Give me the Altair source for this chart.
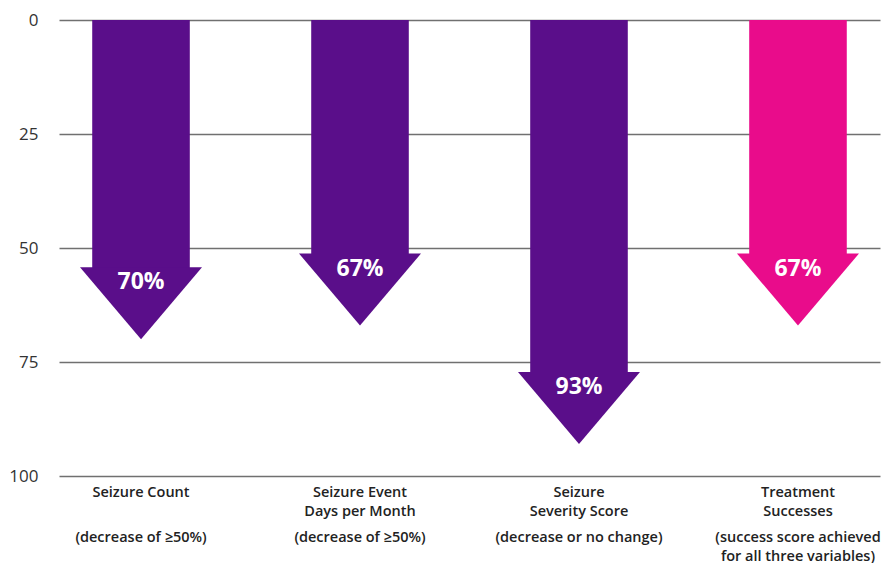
import altair as alt
import pandas as pd

keys = ["count", "days", "severity", "success"]
titles = ["Seizure Count", "Seizure Event\nDays per Month", "Seizure\nSeverity Score", "Treatment\nSuccesses"]
subtitles = ["(decrease of ≥50%)", "(decrease of ≥50%)", "(decrease or no change)",
             "(success score achieved\nfor all three variables)"]
values = [70, 67, 93, 67]
groups = ["single", "single", "single", "overall"]
tick_values = [0, 25, 50, 75, 100]

HEAD = 15  # arrow head length in data units

df = pd.DataFrame({"key": keys, "title": titles, "sub": subtitles,
                   "value": values, "group": groups})
df["label"] = df["value"].astype(str) + "%"

FONT = "Open Sans"
x = alt.X("key:N", sort=keys, axis=None,
          scale=alt.Scale(paddingInner=0.443, paddingOuter=0.096))
y_scale = alt.Scale(domain=[0, 100], reverse=True, nice=False)
color = alt.Color("group:N", legend=None,
                  scale=alt.Scale(domain=["single", "overall"], range=["#5a0e8a", "#e90c8b"]))

base = alt.Chart(df)

shaft = base.transform_calculate(start="0", end=f"datum.value - {HEAD}").mark_bar(
    width={"band": 0.8}, opacity=1
).encode(
    x=x,
    y=alt.Y("start:Q", scale=y_scale,
            axis=alt.Axis(values=tick_values, title=None, grid=True, gridColor="#707070",
                          gridWidth=1.5, domain=False, ticks=False, labelPadding=21,
                          labelFontSize=17, labelColor="#333333", labelFont=FONT)),
    y2="end:Q",
    color=color,
)

head = base.mark_point(
    shape="M-1,-1.18L1,-1.18L0,0Z", filled=True, opacity=1, strokeWidth=0
).encode(
    x=x,
    y=alt.Y("value:Q", scale=y_scale),
    color=color,
    size=alt.value(14884),
)

pct = base.mark_text(
    color="white", font=FONT, fontWeight="bold", fontSize=23, dy=-57, baseline="middle"
).encode(x=x, y=alt.Y("value:Q", scale=y_scale), text="label:N")

title_txt = base.mark_text(
    font=FONT, fontWeight=600, fontSize=14.5, color="#222222", baseline="top",
    lineBreak="\n", lineHeight=18.5, dy=10
).encode(x=x, y=alt.datum(100), text="title:N")

sub_txt = base.mark_text(
    font=FONT, fontWeight=600, fontSize=14.5, color="#222222", baseline="top",
    lineBreak="\n", lineHeight=18.5, dy=55
).encode(x=x, y=alt.datum(100), text="sub:N")

chart = alt.layer(shaft, head, pct, title_txt, sub_txt).properties(
    width=821, height=456, autosize="none",
    padding={"left": 59, "top": 20, "right": 5, "bottom": 87},
).configure_view(stroke=None)

chart.save("out.html", embed_options={"renderer": "svg", "actions": False})
